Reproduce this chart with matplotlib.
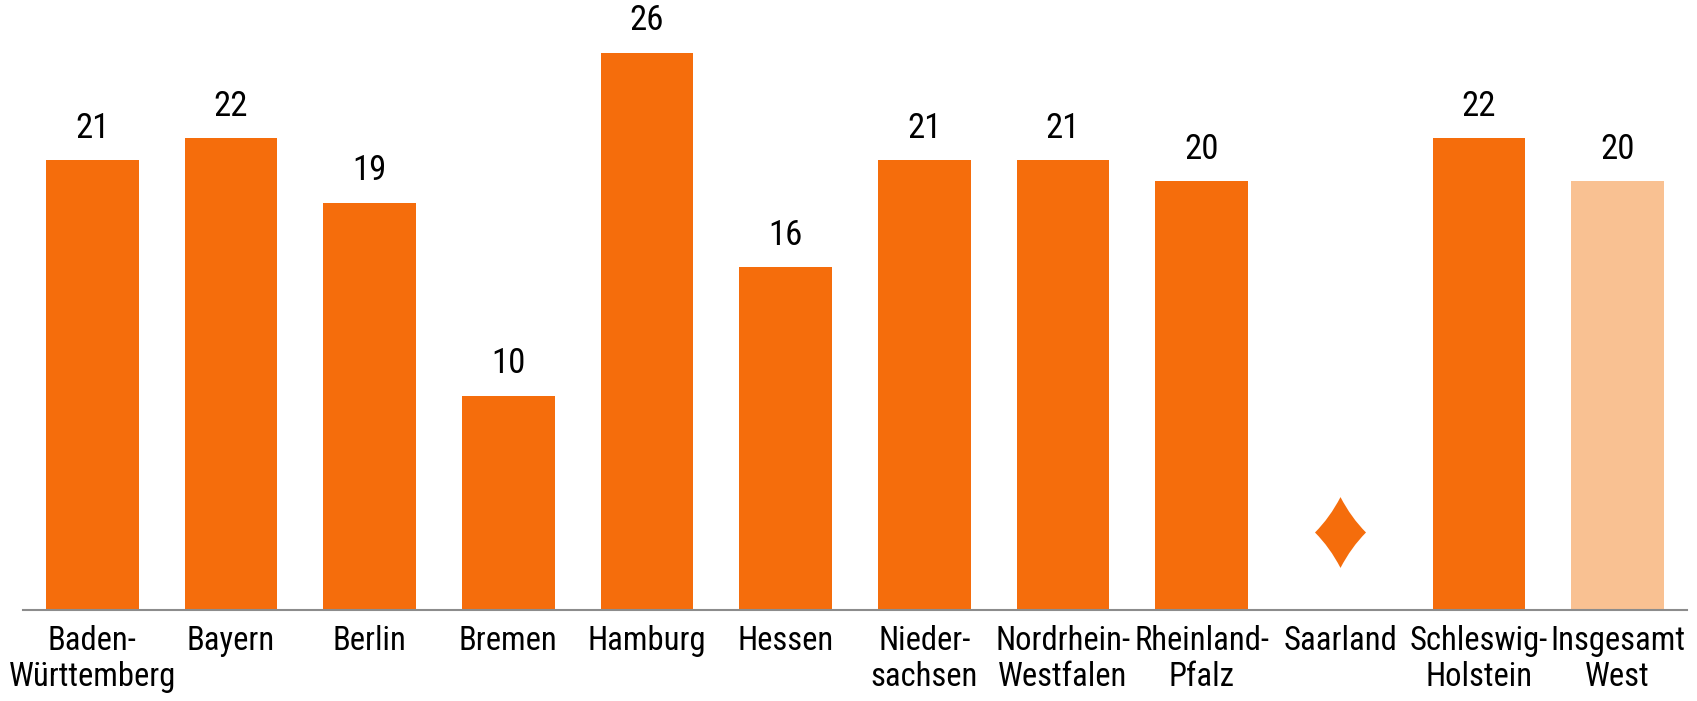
import matplotlib
matplotlib.use("Agg")
import matplotlib.pyplot as plt
from matplotlib.path import Path
import numpy as np

categories = ["Baden-\nWürttemberg", "Bayern", "Berlin", "Bremen", "Hamburg", "Hessen",
              "Nieder-\nsachsen", "Nordrhein-\nWestfalen", "Rheinland-\nPfalz", "Saarland",
              "Schleswig-\nHolstein", "Insgesamt\nWest"]
values = [21, 22, 19, 10, 26, 16, 21, 21, 20, None, 22, 20]
missing = ["Saarland"]
highlight = ["Insgesamt\nWest"]

orange = "#F56D0C"
light = "#F9C192"

plt.rcParams['font.family'] = ['Roboto Condensed', 'Archivo Narrow', 'Liberation Sans', 'DejaVu Sans']

fig = plt.figure(figsize=(16.97, 7.01), dpi=100)
ax = fig.add_axes([23/1697, 91/701, (1687-23)/1697, 610/701])

x = np.arange(len(categories))
for xi, cat, v in zip(x, categories, values):
    if v is None:
        continue
    col = light if cat in highlight else orange
    ax.bar(xi, v, width=0.67, color=col, zorder=2)
    ax.annotate(str(v), (xi, v), xytext=(0, 11), textcoords="offset points",
                ha="center", va="bottom", fontsize=25, color="black")

# diamond placeholder for missing value
codes = [Path.MOVETO, Path.CURVE3, Path.LINETO, Path.CURVE3, Path.LINETO,
         Path.CURVE3, Path.LINETO, Path.CURVE3, Path.LINETO, Path.CLOSEPOLY]
verts = [(0, 1), (0.30, 0.42), (0.72, 0), (0.30, -0.42), (0, -1),
         (-0.30, -0.42), (-0.72, 0), (-0.30, 0.42), (0, 1), (0, 1)]
diamond = Path(verts, codes)
for cat in missing:
    xi = categories.index(cat)
    ax.plot([xi], [0.128], transform=ax.get_xaxis_transform(), marker=diamond,
            markersize=51, color=orange, markeredgewidth=0, linestyle="none")

ax.set_xlim(-0.5, len(categories) - 0.5)
ax.set_ylim(0, 28.46)
ax.set_xticks(x)
ax.set_xticklabels(categories, fontsize=23.5, linespacing=1.15)
ax.tick_params(axis="x", length=0, pad=11)
ax.set_yticks([])
for s in ["top", "right", "left"]:
    ax.spines[s].set_visible(False)
ax.spines["bottom"].set_color("#8C8C8C")
ax.spines["bottom"].set_linewidth(1.5)
ax.patch.set_alpha(0)

fig.savefig("out.png", dpi=100)
